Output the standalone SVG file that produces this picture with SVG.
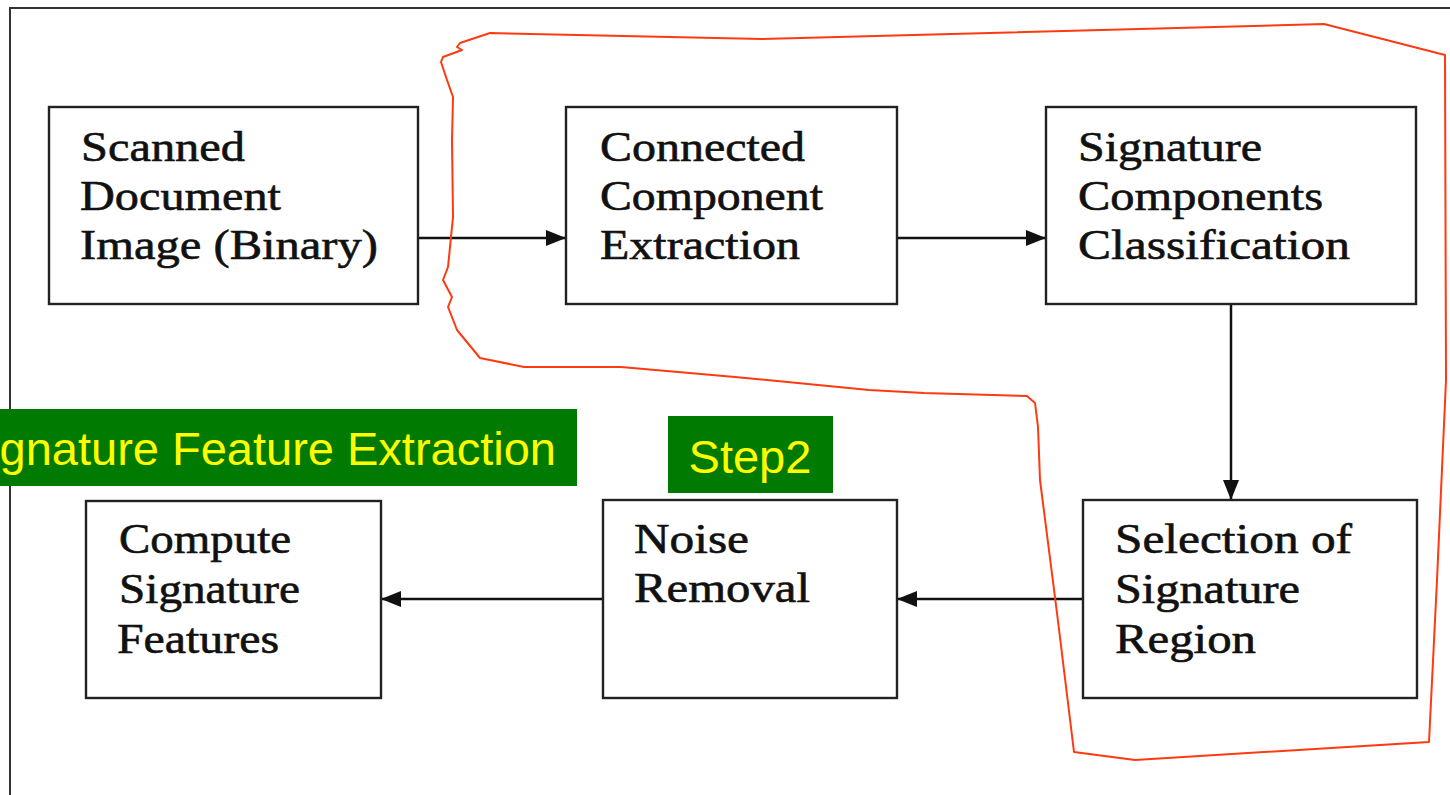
<svg xmlns="http://www.w3.org/2000/svg" width="1450" height="795" viewBox="0 0 1450 795">
<style>
.box{fill:#fff;stroke:#222;stroke-width:2.4}
.t{font-family:"Liberation Serif","Times New Roman",serif;font-size:42px;fill:#111;stroke:#111;stroke-width:0.6}
.lbl{fill:#007a00}
.lt{font-family:"Liberation Sans",Arial,sans-serif;font-size:47px;fill:#ffff00}
.conn{stroke:#111;stroke-width:2.5;fill:none}
</style>
<defs>
<marker id="arr" viewBox="0 0 20 16" refX="20" refY="8" markerWidth="20" markerHeight="16" orient="auto" markerUnits="userSpaceOnUse">
<path d="M0,0 L20,8 L0,16 Z" fill="#111"/>
</marker>
</defs>
<rect x="0" y="0" width="1450" height="795" fill="#fff"/>
<rect x="10" y="8" width="1460" height="800" fill="none" stroke="#333" stroke-width="2"/>

<g id="connectors">
<line class="conn" x1="418" y1="238" x2="566" y2="238" marker-end="url(#arr)"/>
<line class="conn" x1="897" y1="238" x2="1046" y2="238" marker-end="url(#arr)"/>
<line class="conn" x1="1231" y1="304" x2="1231" y2="500" marker-end="url(#arr)"/>
<line class="conn" x1="1083" y1="599" x2="897" y2="599" marker-end="url(#arr)"/>
<line class="conn" x1="603" y1="599" x2="381" y2="599" marker-end="url(#arr)"/>
</g>

<g id="node-scanned">
<rect class="box" x="49" y="107" width="369" height="197"/>
<text class="t" x="81" y="161" textLength="164" lengthAdjust="spacingAndGlyphs">Scanned</text>
<text class="t" x="80" y="210" textLength="201" lengthAdjust="spacingAndGlyphs">Document</text>
<text class="t" x="80" y="259" textLength="298" lengthAdjust="spacingAndGlyphs">Image (Binary)</text>
</g>

<g id="node-connected">
<rect class="box" x="566" y="107" width="331" height="197"/>
<text class="t" x="600" y="161" textLength="205" lengthAdjust="spacingAndGlyphs">Connected</text>
<text class="t" x="600" y="210" textLength="223" lengthAdjust="spacingAndGlyphs">Component</text>
<text class="t" x="600" y="259" textLength="200" lengthAdjust="spacingAndGlyphs">Extraction</text>
</g>

<g id="node-classification">
<rect class="box" x="1046" y="107" width="370" height="197"/>
<text class="t" x="1078" y="161" textLength="184" lengthAdjust="spacingAndGlyphs">Signature</text>
<text class="t" x="1078" y="210" textLength="245" lengthAdjust="spacingAndGlyphs">Components</text>
<text class="t" x="1078" y="259" textLength="272" lengthAdjust="spacingAndGlyphs">Classification</text>
</g>

<g id="node-selection">
<rect class="box" x="1083" y="500" width="334" height="198"/>
<text class="t" x="1115" y="553" textLength="237" lengthAdjust="spacingAndGlyphs">Selection of</text>
<text class="t" x="1115" y="603" textLength="185" lengthAdjust="spacingAndGlyphs">Signature</text>
<text class="t" x="1115" y="653" textLength="141" lengthAdjust="spacingAndGlyphs">Region</text>
</g>

<g id="node-noise">
<rect class="box" x="603" y="500" width="294" height="198"/>
<text class="t" x="634" y="553" textLength="115" lengthAdjust="spacingAndGlyphs">Noise</text>
<text class="t" x="634" y="602" textLength="176" lengthAdjust="spacingAndGlyphs">Removal</text>
</g>

<g id="node-compute">
<rect class="box" x="86" y="501" width="295" height="197"/>
<text class="t" x="119" y="553" textLength="172" lengthAdjust="spacingAndGlyphs">Compute</text>
<text class="t" x="119" y="603" textLength="181" lengthAdjust="spacingAndGlyphs">Signature</text>
<text class="t" x="117" y="653" textLength="162" lengthAdjust="spacingAndGlyphs">Features</text>
</g>

<g id="label-feature">
<rect class="lbl" x="0" y="409" width="577" height="77"/>
<text class="lt" x="556" y="465" text-anchor="end">gnature Feature Extraction</text>
</g>

<g id="label-step2">
<rect class="lbl" x="668" y="416" width="165" height="77"/>
<text class="lt" x="750" y="473" text-anchor="middle">Step2</text>
</g>

<g id="red-outline">
<path d="M460,43 L490,33 L762,39 L1324,24 L1445,55 L1446,380 L1437,580 L1429,742 L1135,760 L1074,752 L1057,613 L1040,480 L1038,427 L1035,403 L1027,396 L924,393 L869,390 L735,377 L621,367 L524,367 L480,358 L457,330 L450,312 L448,307 L452,297 L443,280 L448,267 L453,217 L452,140 L453,97 L447,80 L441,62 L443,57 L462,50 L457,47 Z" fill="none" stroke="#ff3a10" stroke-width="2" stroke-linejoin="round"/>
</g>
</svg>
